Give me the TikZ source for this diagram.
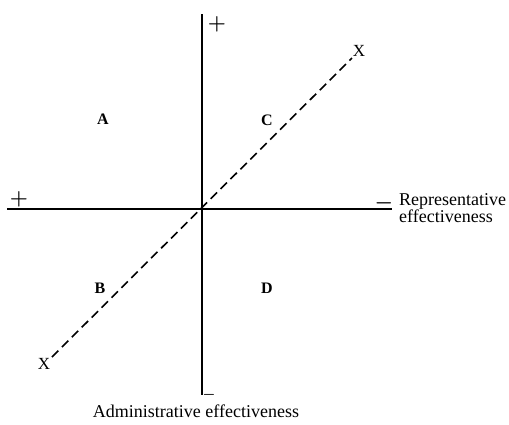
\documentclass[tikz,border=0pt]{standalone}
\usepackage{fontspec}
\setmainfont{Liberation Serif}
\usetikzlibrary{positioning}

\begin{document}
\begin{tikzpicture}[x=1pt,y=-1pt, font=\fontsize{18}{16}\selectfont,
  axis/.style={line width=1.8pt}, diag/.style={line width=1.6pt,dash pattern=on 9pt off 5pt},
  quad/.style={font=\fontsize{16}{16}\selectfont\bfseries}, sgn/.style={inner sep=0pt,font=\fontsize{20}{20}\selectfont\boldmath}]
  \useasboundingbox (0,0) rectangle (509,424);
  \coordinate(top) at (202,14); \coordinate(bot) at (202,395);
  \coordinate(lft) at (7,209); \coordinate(rgt) at (392,209);
  \coordinate(xlo) at (52,357); \coordinate(xhi) at (352,58);
  \draw[axis](top)--(bot);
  \draw[axis](lft)--(rgt);
  \draw[diag](xlo)--(xhi);
  \node[sgn](ptop) at (217,24){$+$};
  \node[sgn,font=\fontsize{14}{14}\selectfont\boldmath](mbot) at (209,395){$-$};
  \node[sgn](plft) at (19,199){$+$};
  \node[sgn](mrgt) at (384,203){$-$};
  \node[anchor=west,align=left,inner sep=0pt](rep) at (399,208){Representative\\effectiveness};
  \node[inner sep=0pt](adm) at (196,411){Administrative effectiveness};
  \node[inner sep=0pt,font=\fontsize{17}{17}\selectfont](xh) at (359,51){X};
  \node[inner sep=0pt,font=\fontsize{17}{17}\selectfont](xl) at (44,364){X};
  \node[quad](qa) at (103,119){A};
  \node[quad](qc) at (267,120){C};
  \node[quad](qb) at (100,288){B};
  \node[quad](qd) at (267,288){D};
\end{tikzpicture}
\end{document}
